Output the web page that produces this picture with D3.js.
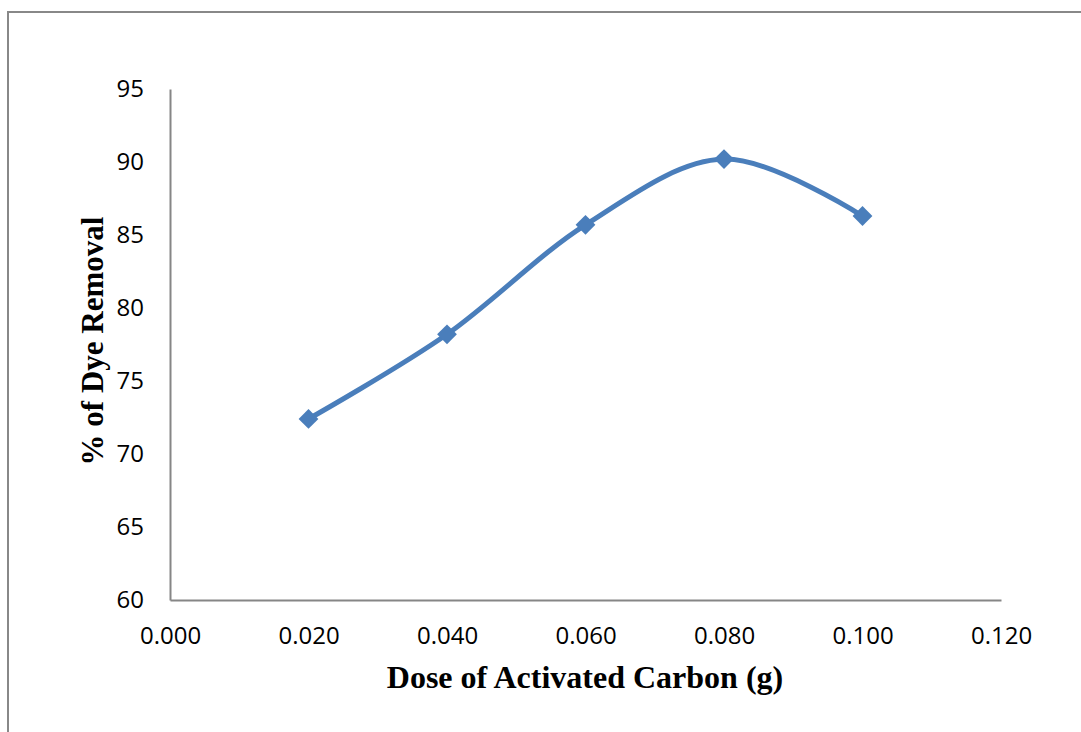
<!DOCTYPE html>
<html lang="en">
<head>
    <meta charset="UTF-8">
    <title>Dye Removal vs Dose</title>
    <script src="https://d3js.org/d3.v7.min.js"></script>
    <style>
        body { margin: 0; background: #fff; }
    </style>
</head>
<body>
    <svg width="1081" height="732"></svg>

    <script>
        // Data
        const doses = [0.02, 0.04, 0.06, 0.08, 0.10];
        const removal = [72.4, 78.2, 85.7, 90.2, 86.3];
        const xTicks = [0, 0.02, 0.04, 0.06, 0.08, 0.10, 0.12];
        const yTicks = [60, 65, 70, 75, 80, 85, 90, 95];

        const svg = d3.select("svg");
        const points = doses.map((d, i) => ({ x: d, y: removal[i] }));

        // Outer chart frame (runs off the right and bottom edges)
        svg.append("rect")
            .attr("x", 8).attr("y", 12)
            .attr("width", 1100).attr("height", 760)
            .attr("fill", "none")
            .attr("stroke", "#888")
            .attr("stroke-width", 2);

        const x = d3.scaleLinear().domain([0, 0.12]).range([170, 1001]);
        const y = d3.scaleLinear().domain([60, 95]).range([600, 89]);

        const tickFont = "'Open Sans', sans-serif";

        // Axes
        const xAxis = svg.append("g")
            .attr("transform", `translate(0,${y(60)})`)
            .call(d3.axisBottom(x).tickValues(xTicks).tickSize(0).tickPadding(36)
                .tickFormat(d3.format(".3f")));
        const yAxis = svg.append("g")
            .attr("transform", `translate(${x(0)},0)`)
            .call(d3.axisLeft(y).tickValues(yTicks).tickSize(0).tickPadding(26));

        [xAxis, yAxis].forEach(a => {
            a.select(".domain").attr("stroke", "#868686").attr("stroke-width", 2);
            a.selectAll("text")
                .attr("fill", "#000")
                .style("font-family", tickFont)
                .style("font-size", "24px");
        });
        xAxis.selectAll("text").attr("dy", "0.32em");

        // Smoothed line
        const line = d3.line()
            .x(d => x(d.x))
            .y(d => y(d.y))
            .curve(d3.curveCatmullRom.alpha(0));

        svg.append("path")
            .datum(points)
            .attr("d", line)
            .attr("fill", "none")
            .attr("stroke", "#4a7ebb")
            .attr("stroke-width", 5)
            .attr("stroke-linecap", "round");

        // Diamond markers
        svg.selectAll(".marker")
            .data(points)
            .enter().append("path")
            .attr("class", "marker")
            .attr("d", d3.symbol().type(d3.symbolDiamond2).size(250))
            .attr("transform", d => `translate(${x(d.x)},${y(d.y)})`)
            .attr("fill", "#4a7ebb");

        // Axis titles
        svg.append("text")
            .attr("x", 585).attr("y", 688)
            .attr("text-anchor", "middle")
            .style("font-family", "'Liberation Serif', 'Times New Roman', serif")
            .style("font-weight", "bold")
            .style("font-size", "32px")
            .text("Dose of Activated Carbon (g)");

        svg.append("text")
            .attr("transform", "translate(103,341) rotate(-90)")
            .attr("text-anchor", "middle")
            .style("font-family", "'Liberation Serif', 'Times New Roman', serif")
            .style("font-weight", "bold")
            .style("font-size", "31px")
            .text("% of Dye Removal");
    </script>
</body>
</html>
